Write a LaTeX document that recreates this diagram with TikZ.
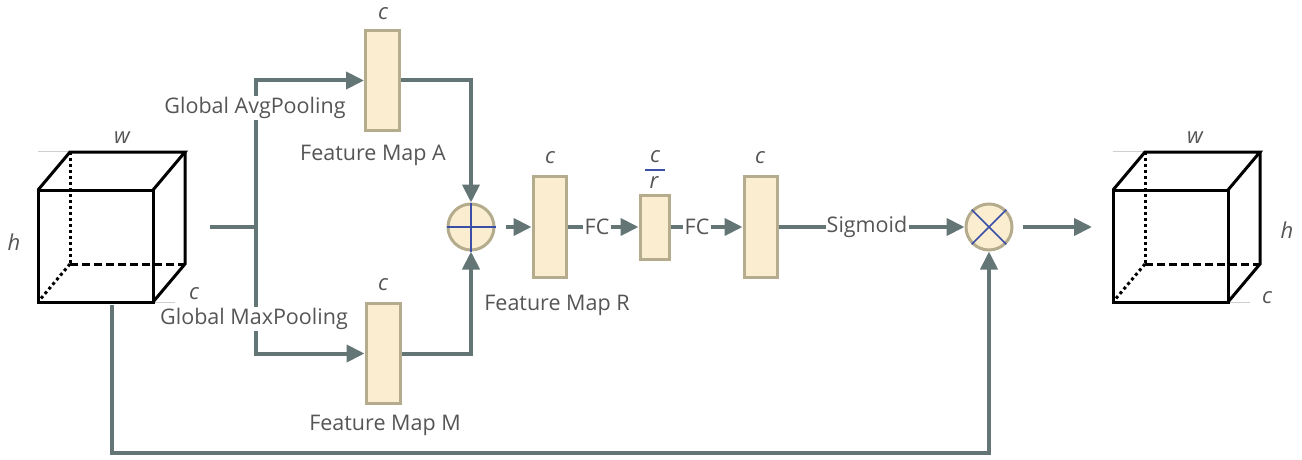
\documentclass[tikz,border=0pt]{standalone}
\usepackage{fontspec}
\setmainfont{Open Sans}
\usetikzlibrary{arrows.meta}
\definecolor{connc}{HTML}{647575}
\definecolor{boxfill}{HTML}{FAEDD0}
\definecolor{boxline}{HTML}{B5AC8D}
\definecolor{txt}{HTML}{555555}
\definecolor{sym}{HTML}{3B4FA8}
\definecolor{guide}{HTML}{CFCFCF}
\begin{document}
\begin{tikzpicture}[x=1pt,y=-1pt,
 conn/.style={draw=connc, line width=4pt},
 arr/.style={conn, -{Triangle[length=18pt,width=17pt]}},
 fmap/.style={draw=boxline, fill=boxfill, line width=3pt, inner sep=0pt},
 op/.style={circle, draw=boxline, fill=boxfill, line width=3pt, minimum size=46pt, inner sep=0pt},
 lbl/.style={text=txt, font=\fontsize{21.5}{24}\selectfont, inner sep=1pt},
 var/.style={text=txt, font=\fontsize{22}{24}\selectfont\itshape, inner sep=0pt},
 edge/.style={line width=3pt, black, line join=miter},
 dotedge/.style={line width=3pt, black, dash pattern=on 3pt off 3pt},
 dashedge/.style={line width=3pt, black, dash pattern=on 8pt off 4pt},
 guideline/.style={draw=guide, line width=0.8pt}
]
\useasboundingbox (0,0) rectangle (1302,460);

% ---------- left cube ----------
\draw[guideline] (38,151) -- (70,151);
\draw[guideline] (153,302) -- (175,302);
\draw[dotedge] (70,152) -- (70,264);
\draw[dashedge] (70,264) -- (185,264);
\draw[dotedge] (70,264) -- (38,302);
\draw[edge] (38,190) rectangle (153,302);
\draw[edge] (38,190) -- (70,152) -- (185,152) -- (153,190);
\draw[edge] (185,152) -- (185,264) -- (153,302);
\node[var] (lw) at (122,138) {w};
\node[var] (lh) at (14,242) {h};
\node[var] (lc) at (194,294) {c};

% ---------- right cube ----------
\draw[guideline] (1113,151) -- (1145,151);
\draw[guideline] (1228,302) -- (1250,302);
\draw[dotedge] (1145,152) -- (1145,264);
\draw[dashedge] (1145,264) -- (1260,264);
\draw[dotedge] (1145,264) -- (1113,302);
\draw[edge] (1113,190) rectangle (1228,302);
\draw[edge] (1113,190) -- (1145,152) -- (1260,152) -- (1228,190);
\draw[edge] (1260,152) -- (1260,264) -- (1228,302);
\node[var] (rw) at (1195,138) {w};
\node[var] (rh) at (1287,230) {h};
\node[var] (rc) at (1267,298) {c};

% ---------- feature maps ----------
\node[fmap, minimum width=34pt, minimum height=99pt] (A) at (382.5,80.5) {};
\node[fmap, minimum width=34pt, minimum height=100pt] (M) at (383,353.5) {};
\node[fmap, minimum width=33pt, minimum height=101pt] (R1) at (549.5,227) {};
\node[fmap, minimum width=29pt, minimum height=64pt] (R2) at (654.5,227) {};
\node[fmap, minimum width=33pt, minimum height=101pt] (R3) at (760.5,227) {};

\node[var] (cA) at (383,14) {c};
\node[var] (cM) at (383,285) {c};
\node[var] (cR1) at (550,158) {c};
\node[var] (cR2) at (655,157) {c};
\node[var] (rR2) at (654,183) {r};
\draw[draw=sym, line width=1.5pt] (645,170) -- (665,170);
\node[var] (cR3) at (760,158) {c};

% ---------- operators ----------
\node[op] (add) at (471,227) {};
\draw[draw=sym, line width=1.5pt] (add.west) -- (add.east);
\draw[draw=sym, line width=1.5pt] (add.north) -- (add.south);
\node[op] (mul) at (989,227) {};
\draw[draw=sym, line width=1.5pt] (mul.north west) -- (mul.south east);
\draw[draw=sym, line width=1.5pt] (mul.north east) -- (mul.south west);

% ---------- connectors ----------
\coordinate (in) at (210,227);
\coordinate (split) at (256,227);
\draw[conn] (in) -- (split);
\draw[arr] (split) |- (A.west);
\draw[arr] (split) |- (M.west);
\draw[arr] (A.east) -| (add.north);
\draw[arr] (M.east) -| (add.south);
\draw[arr, shorten <=10pt] (add.east) -- (R1.west);

\node[lbl] (fc1) at (597,227) {FC};
\node[lbl] (fc2) at (697,227) {FC};
\node[lbl] (sig) at (867,227) {Sigmoid};
\draw[conn] (R1.east) -- (R1.east -| fc1.west);
\draw[arr] (fc1.east |- R2.west) -- (R2.west);
\draw[conn] (R2.east) -- (R2.east -| fc2.west);
\draw[arr] (fc2.east |- R3.west) -- (R3.west);
\draw[conn] (R3.east) -- (R3.east -| sig.west);
\draw[arr] (sig.east |- mul.west) -- (mul.west);

\coordinate (out) at (1092,227);
\draw[arr, shorten <=9pt] (mul.east) -- (out);

\coordinate (skip) at (112,305);
\coordinate (low) at (112,453);
\draw[arr] (skip) -- (low) -| (mul.south);

% ---------- labels ----------
\node[lbl, fill=white] (gap) at (255,108) {Global AvgPooling};
\node[lbl, fill=white] (gmp) at (254,319) {Global MaxPooling};
\node[lbl] (fmA) at (373,155) {Feature Map A};
\node[lbl] (fmM) at (385,425) {Feature Map M};
\node[lbl] (fmR) at (557,305) {Feature Map R};
\end{tikzpicture}
\end{document}
